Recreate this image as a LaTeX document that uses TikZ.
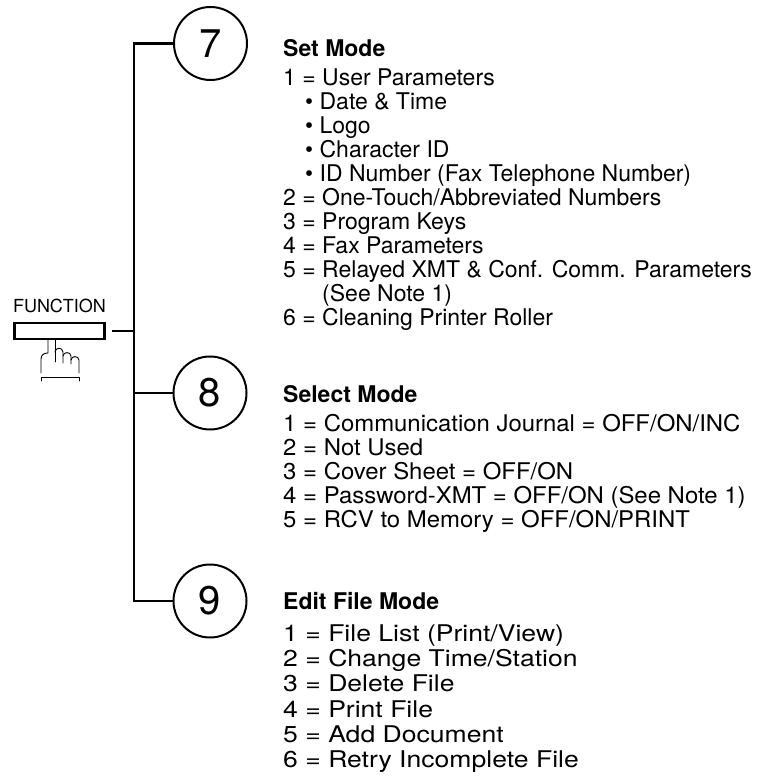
\documentclass[tikz,border=0pt]{standalone}
\usepackage{fontspec}
\setmainfont{TeX Gyre Heros}
\newcommand{\bul}{\hspace*{22pt}\textbullet\ }
\tikzset{
  modecircle/.style={draw, circle, line width=2pt, minimum size=73pt, inner sep=0pt, font=\fontsize{40}{40}\selectfont},
  trunk/.style={line width=2.3pt},
  entry/.style={anchor=base west, inner sep=0pt, font=\fontsize{23}{24}\selectfont},
  heading/.style={entry, font=\fontsize{23}{24}\selectfont\bfseries},
  hand/.style={line width=0.9pt, line join=round, line cap=round}
}

\begin{document}
\begin{tikzpicture}[x=1pt,y=-1pt]
\useasboundingbox (0,0) rectangle (784,783);

\node[draw, line width=2.7pt, minimum width=90pt, minimum height=16pt, inner sep=0pt] (func) at (59.5,331) {};
\node[anchor=base, inner sep=0pt, font=\fontsize{18}{18}\selectfont] (funclabel) at (59.5,313) {FUNCTION};

\draw[hand] (48,340) -- (48,353) .. controls (44,353) and (41,355) .. (41,359) -- (41,373);
\draw[hand] (55,340) -- (55,362);
\draw[hand] (55,352) .. controls (55.5,347) and (62.5,347) .. (63,352) -- (63,363);
\draw[hand] (63,356) .. controls (63.5,351.5) and (70.5,351.5) .. (71,356) -- (71,364);
\draw[hand] (71,360) .. controls (71.5,355.5) and (78.5,355.5) .. (79,360) -- (79,373);
\draw[hand] (41,381) -- (41,377) -- (79,377) -- (79,381);

\node[modecircle] (c7) at (210.5,43.5) {7};
\node[modecircle] (c8) at (210,393) {8};
\node[modecircle] (c9) at (210,601) {9};

\coordinate (j7) at (134,43.5);
\coordinate (j8) at (134,393);
\coordinate (j9) at (134,601);
\coordinate (jf) at (134,331);

\draw[trunk] (c7) -- (j7) -- (j9) -- (c9);
\draw[trunk] (j8) -- (c8);
\draw[trunk, shorten <=6pt] (func) -- (jf);

\node[heading] (setmode) at (283,57) {Set Mode};
\foreach \txt [count=\i] in {1 = User Parameters, \bul Date \& Time, \bul Logo, \bul Character ID,
  \bul ID Number (Fax Telephone Number), 2 = One-Touch/Abbreviated Numbers, 3 = Program Keys,
  4 = Fax Parameters, 5 = Relayed XMT \& Conf. Comm. Parameters, \phantom{5 = }(See Note 1),
  6 = Cleaning Printer Roller}
  \node[entry] (set\i) at (283,{86+24*(\i-1)}) {\txt};

\node[heading] (selmode) at (283,402.5) {Select Mode};
\foreach \txt [count=\i] in {1 = Communication Journal = OFF/ON/INC, 2 = Not Used,
  3 = Cover Sheet = OFF/ON, 4 = Password-XMT = OFF/ON (See Note 1), 5 = RCV to Memory = OFF/ON/PRINT}
  \node[entry] (sel\i) at (283,{431.5+24*(\i-1)}) {\scalebox{1.04}[1]{\txt}};

\node[heading] (editmode) at (283,609.5) {Edit File Mode};
\foreach \txt [count=\i] in {1 = File List (Print/View), 2 = Change Time/Station, 3 = Delete File,
  4 = Print File, 5 = Add Document, 6 = Retry Incomplete File}
  \node[entry] (edit\i) at (283,{641.5+25.2*(\i-1)}) {\scalebox{1.155}[1]{\txt}};
\end{tikzpicture}
\end{document}
